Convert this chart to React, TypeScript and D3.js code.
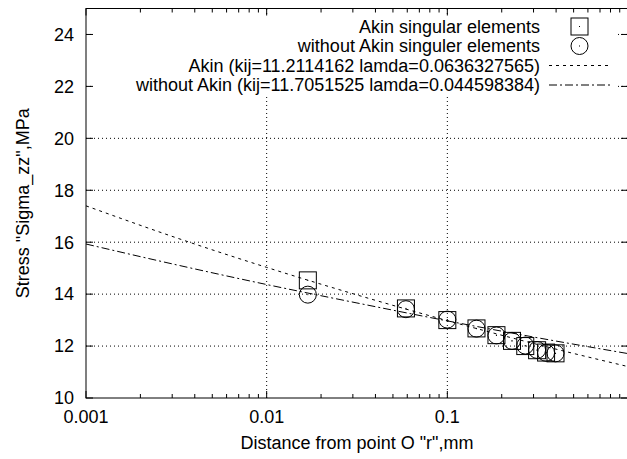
import React, { useEffect, useRef } from 'react';
import * as d3 from 'd3';

// measured points (r in mm, stress in MPa)
const rValues = [0.0169, 0.059, 0.1, 0.145, 0.187, 0.228, 0.27, 0.314, 0.352, 0.397];
const akinPoints = [14.53, 13.45, 13.0, 12.68, 12.42, 12.2, 12.0, 11.84, 11.75, 11.72];
const withoutPoints = [13.98, 13.42, 13.02, 12.67, 12.41, 12.2, 12.02, 11.85, 11.74, 11.72];

// fitted curves, read at half-decade steps
const fitR = [0.001, 0.00316, 0.01, 0.0316, 0.1, 0.316, 1];
const akinFit = [17.4, 16.17, 15.03, 13.97, 12.98, 12.06, 11.21];
const withoutFit = [15.93, 15.13, 14.37, 13.66, 12.97, 12.32, 11.71];

const yTicks = [10, 12, 14, 16, 18, 20, 22, 24];
const xTicks = [0.001, 0.01, 0.1];
const xTickLabels = ['0.001', '0.01', '0.1'];

const legendLabels = [
  'Akin singular elements',
  'without Akin singuler elements',
  'Akin (kij=11.2114162 lamda=0.0636327565)',
  'without Akin (kij=11.7051525 lamda=0.044598384)',
];

const W = 627;
const H = 459;
const FONT = '"Liberation Sans", Arial, Helvetica, sans-serif';

const App = () => {
  const ref = useRef<SVGSVGElement | null>(null);

  useEffect(() => {
    const svg = d3.select(ref.current);
    svg.selectAll('*').remove();

    const left = 86, right = 628, top = 8.5, bottom = 398;
    const x = d3.scaleLog().domain([0.001, 1]).range([left, right]);
    const y = d3.scaleLinear().domain([10, 25]).range([bottom, top]);

    const g = svg.append('g').style('font-family', FONT).style('font-size', '18px');

    // grid
    const dots = '1,3';
    yTicks.filter(v => v > 10).forEach(v => {
      g.append('line').attr('x1', left).attr('x2', right).attr('y1', y(v)).attr('y2', y(v))
        .attr('stroke', '#000').attr('stroke-width', 1).attr('stroke-dasharray', dots);
    });
    xTicks.filter(v => v > 0.001).forEach(v => {
      g.append('line').attr('x1', x(v)).attr('x2', x(v)).attr('y1', bottom).attr('y2', top)
        .attr('stroke', '#000').attr('stroke-width', 1).attr('stroke-dasharray', dots);
    });

    // clip for curves
    svg.append('defs').append('clipPath').attr('id', 'plotclip')
      .append('rect').attr('x', left).attr('y', top).attr('width', right - left).attr('height', bottom - top);

    const line = d3.line<number>()
      .x((_, i) => x(fitR[i]))
      .y(d => y(d))
      .curve(d3.curveMonotoneX);

    const curves = g.append('g').attr('clip-path', 'url(#plotclip)');
    curves.append('path').attr('d', line(akinFit)).attr('fill', 'none')
      .attr('stroke', '#000').attr('stroke-width', 1).attr('stroke-dasharray', '3,4');
    curves.append('path').attr('d', line(withoutFit)).attr('fill', 'none')
      .attr('stroke', '#000').attr('stroke-width', 1).attr('stroke-dasharray', '8,3,2,3');

    const s = 8.5;
    const square = (sel, cx, cy) => {
      sel.append('rect').attr('x', cx - s).attr('y', cy - s).attr('width', 2 * s).attr('height', 2 * s)
        .attr('fill', 'none').attr('stroke', '#000').attr('stroke-width', 1);
      sel.append('rect').attr('x', cx - 0.5).attr('y', cy - 0.5).attr('width', 1).attr('height', 1).attr('fill', '#000');
    };
    const circle = (sel, cx, cy) => {
      sel.append('circle').attr('cx', cx).attr('cy', cy).attr('r', s)
        .attr('fill', 'none').attr('stroke', '#000').attr('stroke-width', 1);
      sel.append('rect').attr('x', cx - 0.5).attr('y', cy - 0.5).attr('width', 1).attr('height', 1).attr('fill', '#000');
    };

    rValues.forEach((r, i) => square(g, x(r), y(akinPoints[i])));
    rValues.forEach((r, i) => circle(g, x(r), y(withoutPoints[i])));

    // legend (opaque key box, no border)
    const textRight = 540;
    const rowY = [26.5, 46, 65.5, 85];
    const legend = g.append('g');
    legend.append('rect').attr('x', 92).attr('y', 15).attr('width', 524).attr('height', 81).attr('fill', '#fff');
    legendLabels.forEach((t, i) => {
      legend.append('text').attr('x', textRight).attr('y', rowY[i]).attr('dy', '0.35em')
        .attr('text-anchor', 'end').text(t);
    });
    const sx1 = 549, sx2 = 610, scx = 579.5;
    square(legend, scx, rowY[0]);
    circle(legend, scx, rowY[1]);
    legend.append('line').attr('x1', sx1).attr('x2', sx2).attr('y1', rowY[2]).attr('y2', rowY[2])
      .attr('stroke', '#000').attr('stroke-dasharray', '3,4');
    legend.append('line').attr('x1', sx1).attr('x2', sx2).attr('y1', rowY[3]).attr('y2', rowY[3])
      .attr('stroke', '#000').attr('stroke-dasharray', '8,3,2,3');

    // border
    g.append('rect').attr('x', left).attr('y', top).attr('width', right - left).attr('height', bottom - top)
      .attr('fill', 'none').attr('stroke', '#000').attr('stroke-width', 1);

    // ticks on all sides
    const major = 7, minor = 4;
    const minorTicks: number[] = [];
    [0.001, 0.01, 0.1].forEach(d => { for (let k = 2; k <= 9; k++) minorTicks.push(d * k); });
    xTicks.concat([1]).forEach(v => {
      g.append('line').attr('x1', x(v)).attr('x2', x(v)).attr('y1', bottom).attr('y2', bottom - major).attr('stroke', '#000');
      g.append('line').attr('x1', x(v)).attr('x2', x(v)).attr('y1', top).attr('y2', top + major).attr('stroke', '#000');
    });
    minorTicks.forEach(v => {
      g.append('line').attr('x1', x(v)).attr('x2', x(v)).attr('y1', bottom).attr('y2', bottom - minor).attr('stroke', '#000');
      g.append('line').attr('x1', x(v)).attr('x2', x(v)).attr('y1', top).attr('y2', top + minor).attr('stroke', '#000');
    });
    yTicks.forEach(v => {
      g.append('line').attr('x1', left).attr('x2', left + major).attr('y1', y(v)).attr('y2', y(v)).attr('stroke', '#000');
      g.append('line').attr('x1', right).attr('x2', right - major).attr('y1', y(v)).attr('y2', y(v)).attr('stroke', '#000');
    });

    // tick labels
    yTicks.forEach(v => {
      g.append('text').attr('x', 74).attr('y', y(v)).attr('dy', '0.35em').attr('text-anchor', 'end').text(v);
    });
    xTicks.forEach((v, i) => {
      g.append('text').attr('x', x(v)).attr('y', 423).attr('text-anchor', 'middle').text(xTickLabels[i]);
    });

    // axis titles
    g.append('text').attr('x', (left + right) / 2).attr('y', 449).attr('text-anchor', 'middle')
      .text('Distance from point O "r",mm');
    g.append('text').attr('transform', `translate(29,${(top + bottom) / 2}) rotate(-90)`)
      .attr('text-anchor', 'middle').text('Stress "Sigma_zz",MPa');
  }, []);

  return (
    <svg ref={ref} width={W} height={H}
      style={{ position: 'absolute', left: 0, top: 0, background: '#fff' }} />
  );
};

export default App;
